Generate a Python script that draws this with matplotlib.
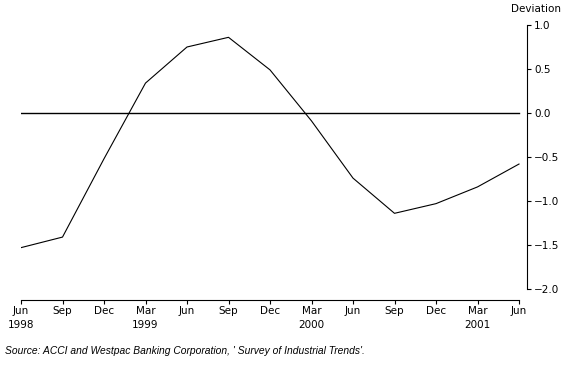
import matplotlib
matplotlib.use("Agg")
import matplotlib.pyplot as plt
import numpy as np

plt.rcParams['font.family'] = ['DejaVu Sans']

months = ["Jun", "Sep", "Dec", "Mar", "Jun", "Sep", "Dec", "Mar", "Jun", "Sep", "Dec", "Mar", "Jun"]
years = ["1998", "", "", "1999", "", "", "", "2000", "", "", "", "2001", ""]
deviation = [-1.53, -1.41, -0.52, 0.34, 0.75, 0.86, 0.49, -0.09, -0.74, -1.14, -1.03, -0.84, -0.58]
yticks = [1.0, 0.5, 0.0, -0.5, -1.0, -1.5, -2.0]

fig = plt.figure(figsize=(5.67, 3.78), dpi=100)
ax = fig.add_axes([21/567, 1-289/378, (527-21)/567, (289-25)/378])

x = np.arange(len(deviation))
ax.plot(x, deviation, color='black', lw=0.8)
ax.plot([x[0], x[-1]], [0, 0], color='black', lw=1.0)

ax.set_xlim(0, len(x) - 1 + 8/41.5)
ax.set_ylim(-2.0, 1.0)

for s in ['top', 'left']:
    ax.spines[s].set_visible(False)
for s in ['bottom', 'right']:
    ax.spines[s].set_linewidth(0.8)
ax.spines['bottom'].set_position(('outward', 8))
ax.spines['bottom'].set_bounds(x[0], x[-1])

ax.yaxis.tick_right()
ax.set_yticks(yticks)
ax.set_yticklabels([f"{v:.1f}".replace('-', '\u2212') for v in yticks])
ax.set_xticks(x)
ax.set_xticklabels([m + "\n" + y for m, y in zip(months, years)])
ax.tick_params(axis='both', labelsize=7.5, length=3, width=0.8, pad=2, direction='out')
ax.tick_params(axis='x', pad=1)
for lab in ax.get_xticklabels():
    lab.set_linespacing(1.6)

fig.text(561/567, 1-9/378, "Deviation", ha='right', va='center', fontsize=7.5)

fig.text(5/567, 1-351/378, "Source: ACCI and Westpac Banking Corporation, ' Survey of Industrial Trends'.",
         fontsize=7.4, style='italic', ha='left', va='center', family='Liberation Sans')

fig.savefig("out.png", dpi=100)
